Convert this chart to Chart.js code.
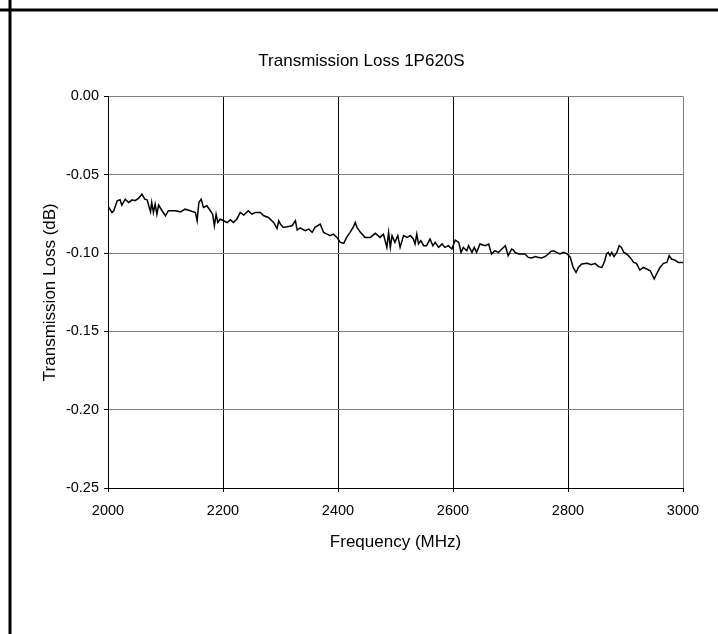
<!DOCTYPE html>
<html lang="en">
<head>
    <meta charset="UTF-8">
    <title>Transmission Loss 1P620S</title>
    <script src="https://cdn.jsdelivr.net/npm/chart.js"></script>
    <style>
        html, body { margin: 0; padding: 0; background: #fff; }
        #chart { display: block; }
    </style>
</head>
<body>
    <canvas id="chart" width="718" height="634"></canvas>

    <script>
        const freqMHz = [
            2000, 2007, 2010, 2016, 2021, 2024, 2030, 2036, 2042, 2047,
            2053, 2059, 2064, 2068, 2074, 2076, 2079, 2082, 2085, 2088,
            2094, 2100, 2105, 2117, 2126, 2134, 2143, 2152, 2155, 2158,
            2162, 2166, 2172, 2178, 2182, 2185, 2188, 2191, 2195, 2201,
            2207, 2213, 2218, 2224, 2230, 2236, 2244, 2250, 2256, 2265,
            2271, 2279, 2288, 2294, 2297, 2300, 2305, 2314, 2320, 2326,
            2329, 2334, 2343, 2349, 2355, 2360, 2369, 2375, 2381, 2386,
            2392, 2398, 2404, 2410, 2415, 2421, 2427, 2430, 2433, 2439,
            2447, 2456, 2465, 2473, 2479, 2485, 2488, 2491, 2494, 2499,
            2504, 2508, 2514, 2520, 2526, 2531, 2534, 2537, 2540, 2544,
            2549, 2554, 2560, 2565, 2569, 2575, 2581, 2586, 2592, 2598,
            2604, 2610, 2614, 2618, 2624, 2627, 2633, 2637, 2641, 2647,
            2656, 2662, 2667, 2673, 2679, 2685, 2691, 2696, 2702, 2705,
            2708, 2714, 2720, 2725, 2731, 2737, 2743, 2749, 2754, 2760,
            2766, 2770, 2775, 2780, 2786, 2792, 2799, 2804, 2809, 2814,
            2818, 2824, 2833, 2841, 2847, 2853, 2859, 2864, 2867, 2870,
            2873, 2876, 2880, 2885, 2889, 2893, 2897, 2902, 2908, 2914,
            2919, 2925, 2931, 2937, 2943, 2950, 2954, 2960, 2966, 2972,
            2976, 2980, 2986, 2992, 3000
        ];
        const lossDb = [
            -0.0702, -0.0741, -0.0730, -0.0666, -0.0660, -0.0694, -0.0656, -0.0677, -0.0660, -0.0666,
            -0.0651, -0.0624, -0.0656, -0.0660, -0.0737, -0.0677, -0.0741, -0.0688, -0.0752, -0.0694,
            -0.0730, -0.0762, -0.0730, -0.0730, -0.0737, -0.0720, -0.0730, -0.0741, -0.0794, -0.0677,
            -0.0656, -0.0709, -0.0698, -0.0730, -0.0752, -0.0826, -0.0752, -0.0805, -0.0784, -0.0794,
            -0.0805, -0.0788, -0.0805, -0.0784, -0.0741, -0.0758, -0.0730, -0.0752, -0.0741, -0.0741,
            -0.0762, -0.0773, -0.0805, -0.0843, -0.0794, -0.0816, -0.0837, -0.0830, -0.0826, -0.0794,
            -0.0853, -0.0840, -0.0857, -0.0847, -0.0868, -0.0836, -0.0815, -0.0868, -0.0879, -0.0889,
            -0.0879, -0.0900, -0.0932, -0.0938, -0.0900, -0.0868, -0.0832, -0.0804, -0.0836, -0.0868,
            -0.0900, -0.0900, -0.0874, -0.0900, -0.0879, -0.0964, -0.0868, -0.0964, -0.0889, -0.0932,
            -0.0889, -0.0964, -0.0889, -0.0900, -0.0889, -0.0910, -0.0942, -0.0879, -0.0942, -0.0921,
            -0.0953, -0.0953, -0.0910, -0.0953, -0.0932, -0.0964, -0.0942, -0.0964, -0.0953, -0.0974,
            -0.0917, -0.0932, -0.0996, -0.0964, -0.0985, -0.0953, -0.0996, -0.0964, -0.0996, -0.0942,
            -0.0953, -0.0942, -0.1006, -0.0985, -0.0996, -0.0974, -0.0953, -0.1017, -0.0974, -0.0981,
            -0.0996, -0.1006, -0.1006, -0.1006, -0.1028, -0.1032, -0.1023, -0.1028, -0.1032, -0.1023,
            -0.1006, -0.0989, -0.0985, -0.0996, -0.1006, -0.0996, -0.1006, -0.1028, -0.1092, -0.1124,
            -0.1092, -0.1070, -0.1066, -0.1075, -0.1066, -0.1087, -0.1092, -0.1049, -0.1006, -0.0996,
            -0.1017, -0.0996, -0.1023, -0.0996, -0.0953, -0.0964, -0.0996, -0.1006, -0.1028, -0.1060,
            -0.1066, -0.1109, -0.1092, -0.1102, -0.1113, -0.1166, -0.1134, -0.1092, -0.1066, -0.1060,
            -0.1017, -0.1038, -0.1045, -0.1060, -0.1060
        ];

        // Axis ranges / tick steps
        const xRange = [2000, 3000];
        const xStep = 200;
        const yRange = [-0.25, 0];
        const yStep = 0.05;

        const FONT = "'Liberation Sans', Arial, sans-serif";

        // thick page frame lines at top and left
        const pageFrame = {
            id: 'pageFrame',
            beforeDraw(chart) {
                const ctx = chart.ctx;
                ctx.save();
                ctx.strokeStyle = '#000';
                ctx.lineWidth = 3;
                ctx.beginPath();
                ctx.moveTo(0, 10);
                ctx.lineTo(chart.width, 10);
                ctx.moveTo(10, 0);
                ctx.lineTo(10, chart.height);
                ctx.stroke();
                ctx.restore();
            }
        };

        const chart = new Chart(document.getElementById('chart').getContext('2d'), {
            type: 'line',
            data: {
                datasets: [{
                    label: 'Transmission Loss',
                    data: freqMHz.map((f, i) => ({ x: f, y: lossDb[i] })),
                    borderColor: '#000',
                    borderWidth: 1.5,
                    pointRadius: 0,
                    fill: false,
                    tension: 0
                }]
            },
            options: {
                responsive: false,
                animation: false,
                devicePixelRatio: 1,
                layout: { padding: { top: 10, left: 40, right: 35, bottom: 0 } },
                plugins: {
                    legend: { display: false },
                    tooltip: { enabled: false },
                    title: {
                        display: true,
                        text: 'Transmission Loss 1P620S',
                        color: '#000',
                        font: { family: FONT, size: 17, weight: 'normal' },
                        padding: { top: 41, bottom: 25 }
                    }
                },
                scales: {
                    x: {
                        type: 'linear',
                        min: xRange[0],
                        max: xRange[1],
                        afterFit: s => { s.height = 146; },
                        ticks: {
                            stepSize: xStep,
                            color: '#000',
                            padding: 10,
                            maxRotation: 0,
                            font: { family: FONT, size: 14.5 },
                            callback: v => String(v)
                        },
                        grid: {
                            color: c => (c.tick && c.tick.value === xRange[1]) ? '#808080' : '#000',
                            tickColor: '#000',
                            tickLength: 4,
                            lineWidth: 1
                        },
                        border: { color: '#000', width: 1 },
                        title: {
                            display: true,
                            text: 'Frequency (MHz)',
                            color: '#000',
                            font: { family: FONT, size: 17 },
                            padding: { top: 0, bottom: 81 }
                        }
                    },
                    y: {
                        min: yRange[0],
                        max: yRange[1],
                        afterFit: s => { s.width = 68; },
                        ticks: {
                            stepSize: yStep,
                            color: '#000',
                            padding: 5,
                            font: { family: FONT, size: 14.5 },
                            callback: v => (Math.abs(v) < 1e-9 ? 0 : v).toFixed(2)
                        },
                        grid: {
                            color: c => (c.tick && Math.abs(c.tick.value - yRange[0]) < 1e-9) ? '#000' : '#808080',
                            tickColor: '#000',
                            tickLength: 4,
                            lineWidth: 1
                        },
                        border: { color: '#000', width: 1 },
                        title: {
                            display: true,
                            text: 'Transmission Loss (dB)',
                            color: '#000',
                            font: { family: FONT, size: 17 },
                            padding: { top: 0, bottom: 0 }
                        }
                    }
                }
            },
            plugins: [pageFrame]
        });
    </script>
</body>
</html>
